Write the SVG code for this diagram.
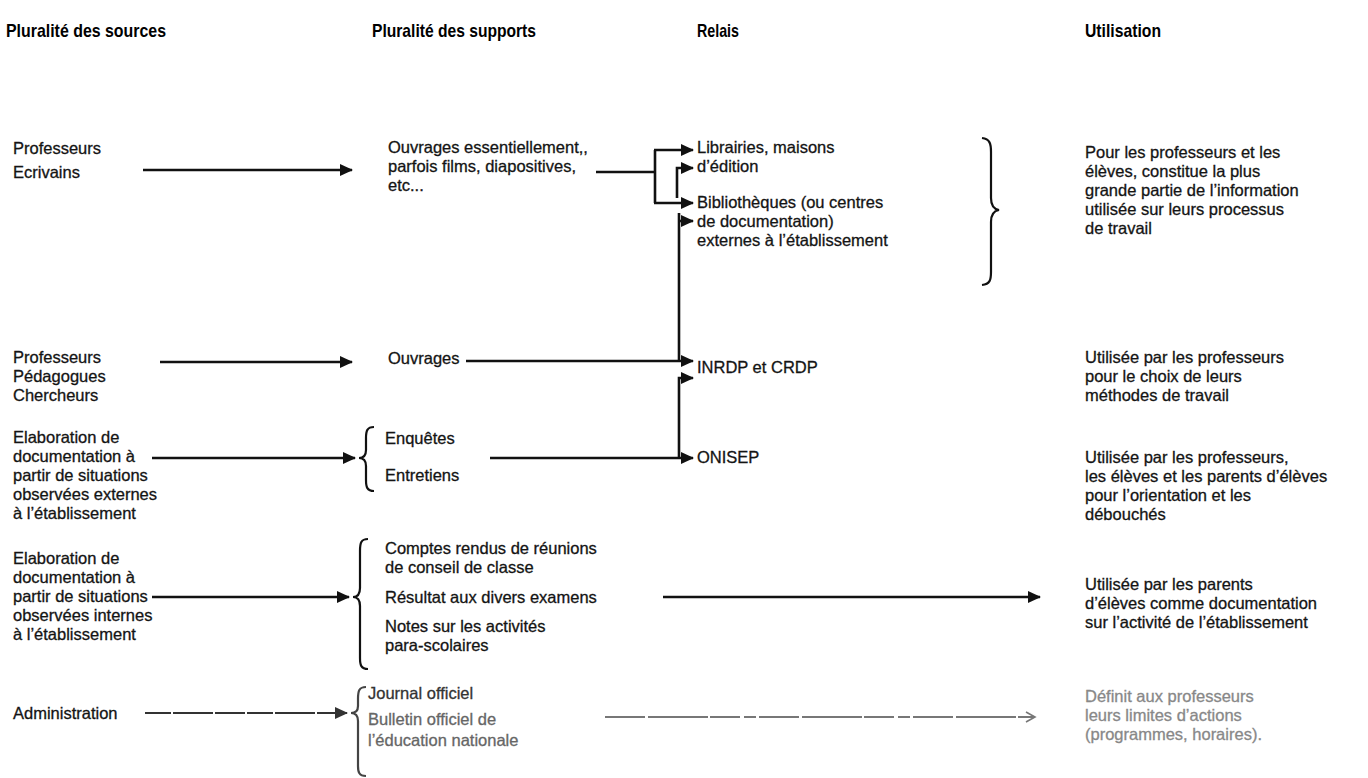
<svg xmlns="http://www.w3.org/2000/svg" width="1368" height="778" viewBox="0 0 1368 778">
<defs>
<style>
text{font-family:"Liberation Sans",Arial,sans-serif;font-size:16.5px;fill:#141414;stroke:#141414;stroke-width:0.3}
.h{font-weight:bold;font-size:19px;fill:#000;stroke:none}
.ln{stroke:#111;stroke-width:2.6;fill:none}
.br{stroke:#111;stroke-width:2.2;fill:none}
.gl{stroke:#333;stroke-width:2.2;fill:none;stroke-dasharray:26 2 40 2 30 2}
.gd{stroke:#777;stroke-width:2;fill:none;stroke-dasharray:40 3 60 2 30 4 12 3}
.f1{fill:#333;stroke:#333}
.f2{fill:#666;stroke:#666}
.f3{fill:#888;stroke:#888}
</style>
<marker id="ah" markerUnits="userSpaceOnUse" markerWidth="13" markerHeight="12" refX="12" refY="6" orient="auto"><path d="M0,0 L13,6 L0,12 z" fill="#111"/></marker>
<marker id="ahg" markerUnits="userSpaceOnUse" markerWidth="13" markerHeight="12" refX="12" refY="6" orient="auto"><path d="M0,0 L13,6 L0,12 z" fill="#333"/></marker>
<marker id="aho" markerUnits="userSpaceOnUse" markerWidth="12" markerHeight="12" refX="10" refY="6" orient="auto"><path d="M1,1 L10,6 L1,11" fill="none" stroke="#777" stroke-width="1.6"/></marker>
</defs>
<rect width="1368" height="778" fill="#fff"/>

<g id="headers">
<text class="h" x="6" y="37" textLength="160" lengthAdjust="spacingAndGlyphs">Pluralité des sources</text>
<text class="h" x="372" y="37" textLength="164" lengthAdjust="spacingAndGlyphs">Pluralité des supports</text>
<text class="h" x="697" y="37" textLength="42" lengthAdjust="spacingAndGlyphs">Relais</text>
<text class="h" x="1085" y="37" textLength="76" lengthAdjust="spacingAndGlyphs">Utilisation</text>
</g>

<g id="src1"><text x="13" y="154">Professeurs</text><text x="13" y="178">Ecrivains</text></g>
<g id="src2"><text x="13" y="363">Professeurs</text><text x="13" y="382">Pédagogues</text><text x="13" y="401">Chercheurs</text></g>
<g id="src3"><text x="13" y="443">Elaboration de</text><text x="13" y="462">documentation à</text><text x="13" y="481">partir de situations</text><text x="13" y="500">observées externes</text><text x="13" y="519">à l’établissement</text></g>
<g id="src4"><text x="13" y="564">Elaboration de</text><text x="13" y="583">documentation à</text><text x="13" y="602">partir de situations</text><text x="13" y="621">observées internes</text><text x="13" y="640">à l’établissement</text></g>
<g id="src5"><text x="13" y="719">Administration</text></g>

<g id="sup1"><text x="388" y="153">Ouvrages essentiellement,,</text><text x="388" y="172">parfois films, diapositives,</text><text x="388" y="191">etc...</text></g>
<g id="sup2"><text x="388" y="364">Ouvrages</text></g>
<g id="sup3"><path class="br" d="M374,427 C367,427 366,431 366,438 L366,450 C366,455 364,458 359,458 C364,458 366,461 366,466 L366,480 C366,487 367,491 374,491"/><text x="385" y="444">Enquêtes</text><text x="385" y="481">Entretiens</text></g>
<g id="sup4"><path class="br" d="M368,539 C361,539 360,543 360,551 L360,588 C360,594 358,597 353,597 C358,597 360,600 360,606 L360,658 C360,665 361,669 368,669"/><text x="385" y="554">Comptes rendus de réunions</text><text x="385" y="573">de conseil de classe</text><text x="385" y="603">Résultat aux divers examens</text><text x="385" y="632">Notes sur les activités</text><text x="385" y="651">para-scolaires</text></g>
<g id="sup5"><path class="br" style="stroke:#444" d="M366,687 C359,687 358,691 358,699 L358,706 C358,711 356,713 351,713 C356,713 358,716 358,721 L358,766 C358,772 359,776 366,776"/><text class="f1" x="368" y="699">Journal officiel</text><text class="f2" x="368" y="725">Bulletin officiel de</text><text class="f2" x="368" y="746">l’éducation nationale</text></g>

<g id="rel1"><text x="697" y="153">Librairies, maisons</text><text x="697" y="172">d’édition</text><text x="697" y="208">Bibliothèques (ou centres</text><text x="697" y="227">de documentation)</text><text x="697" y="246">externes à l’établissement</text><path class="br" d="M982,138 C990,139 991,144 991,152 L991,198 C991,205 993,209 999,210 C993,211 991,215 991,222 L991,272 C991,280 990,284 982,285"/></g>
<g id="rel2"><text x="697" y="373">INRDP et CRDP</text></g>
<g id="rel3"><text x="697" y="463">ONISEP</text></g>

<g id="use1"><text x="1085" y="158">Pour les professeurs et les</text><text x="1085" y="177">élèves, constitue la plus</text><text x="1085" y="196">grande partie de l’information</text><text x="1085" y="215">utilisée sur leurs processus</text><text x="1085" y="234">de travail</text></g>
<g id="use2"><text x="1085" y="363">Utilisée par les professeurs</text><text x="1085" y="382">pour le choix de leurs</text><text x="1085" y="401">méthodes de travail</text></g>
<g id="use3"><text x="1085" y="463">Utilisée par les professeurs,</text><text x="1085" y="482">les élèves et les parents d’élèves</text><text x="1085" y="501">pour l’orientation et les</text><text x="1085" y="520">débouchés</text></g>
<g id="use4"><text x="1085" y="590">Utilisée par les parents</text><text x="1085" y="609">d’élèves comme documentation</text><text x="1085" y="628">sur l’activité de l’établissement</text></g>
<g id="use5"><text class="f3" x="1085" y="702">Définit aux professeurs</text><text class="f3" x="1085" y="721">leurs limites d’actions</text><text class="f3" x="1085" y="740">(programmes, horaires).</text></g>

<g id="connectors">
<path class="ln" d="M143,170 H352" marker-end="url(#ah)"/>
<path class="ln" d="M160,362 H352" marker-end="url(#ah)"/>
<path class="ln" d="M152,458 H355" marker-end="url(#ah)"/>
<path class="ln" d="M152,597 H349" marker-end="url(#ah)"/>
<path class="gl" d="M145,713 H347" marker-end="url(#ahg)"/>
<path class="ln" d="M596,172 H655"/>
<path class="ln" d="M655,150 V203"/>
<path class="ln" d="M654,150 H693" marker-end="url(#ah)"/>
<path class="ln" d="M654,203 H693" marker-end="url(#ah)"/>
<path class="ln" d="M677,198 V168 H693" marker-end="url(#ah)"/>
<path class="ln" d="M466,361 H693" marker-end="url(#ah)"/>
<path class="ln" d="M679,361 V213"/>
<path class="ln" d="M678,221 H693" marker-end="url(#ah)"/>
<path class="ln" d="M490,458 H693" marker-end="url(#ah)"/>
<path class="ln" d="M679,458 V378 H693" marker-end="url(#ah)"/>
<path class="ln" d="M663,597 H1040" marker-end="url(#ah)"/>
<path class="gd" d="M605,717 H1035" marker-end="url(#aho)"/>
</g>
</svg>
